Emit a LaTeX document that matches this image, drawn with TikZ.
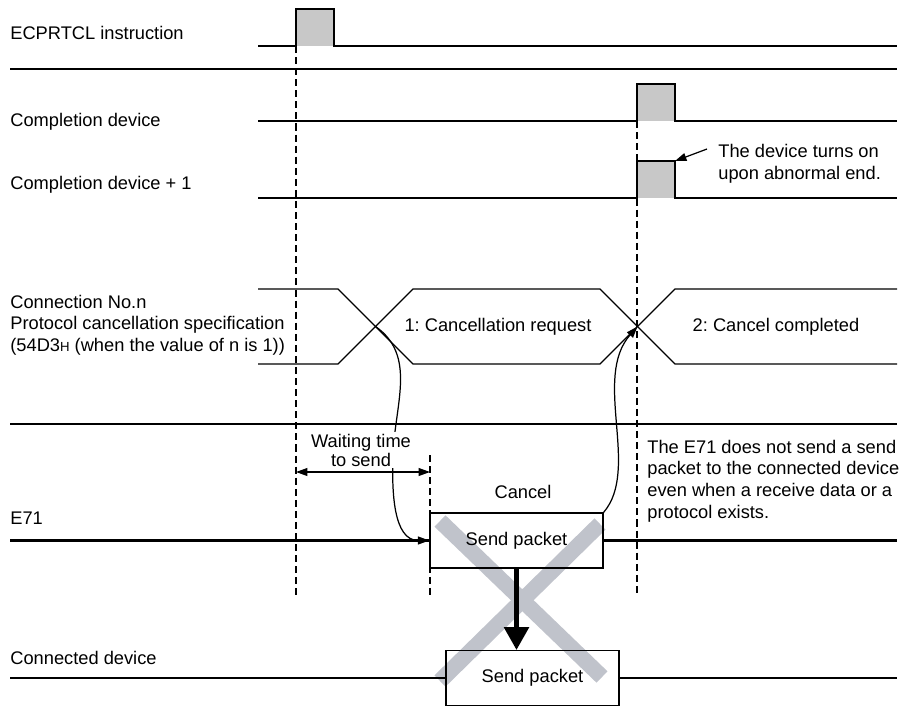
\documentclass[tikz,border=0pt]{standalone}
\usepackage{fontspec}
\setmainfont{Liberation Sans}
\usepackage{xcolor}
\usetikzlibrary{arrows.meta}

\definecolor{pulsegray}{RGB}{200,200,200}
\definecolor{crossgray}{RGB}{192,195,203}
\frenchspacing

\begin{document}
\begin{tikzpicture}[
    x=0.02cm, y=-0.02cm,
    font=\fontsize{10.4}{12.3}\selectfont,
    >={Triangle[length=6.5pt,width=4.5pt]},
    sig/.style={line width=0.7pt},
    sep/.style={line width=1.5pt},
    bus/.style={line width=1.4pt},
    guide/.style={line width=0.6pt, dash pattern=on 4pt off 2.3pt},
    lbl/.style={anchor=west, inner sep=0pt, align=left},
    pkt/.style={draw, line width=0.7pt, minimum width=3.46cm, minimum height=1.1cm, inner sep=0pt}
]
\useasboundingbox (0,0) rectangle (905,706);

% signal names
\node[lbl] (ecp)  at (10,33)  {ECPRTCL instruction};
\node[lbl] (cd)   at (10,122) {Completion device};
\node[lbl] (cd1)  at (10,185) {Completion device + 1};
\node[lbl] (conn) at (10,325) {Connection No.n\\Protocol cancellation specification\\(54D3{\fontsize{7.5}{9}\selectfont H} (when the value of n is 1))};
\node[lbl] (e71)  at (10,518) {E71};
\node[lbl] (dev)  at (10,658) {Connected device};

\coordinate (rend) at (897,0);

% pulses
\fill[pulsegray] (296,9) rectangle (334,46);
\draw[sig] (258,46) -- (296,46) -- (296,9) -- (334,9) -- (334,46) -- (897,46);

\fill[pulsegray] (637,84) rectangle (675,121);
\draw[sig] (258,121) -- (637,121) -- (637,84) -- (675,84) -- (675,121) -- (897,121);

\fill[pulsegray] (637,161) rectangle (675,198);
\draw[sig] (258,198) -- (637,198) -- (637,161) -- (675,161) -- (675,198) -- (897,198);

\draw[sep] (10,69) -- (897,69);
\draw[sep] (10,424) -- (897,424);

% protocol cancellation bus
\coordinate (xa) at (375.5,326.5);
\coordinate (xb) at (637.5,326.5);
\draw[sig] (258,289) -- (338,289) -- (413,364) -- (600,364) -- (675,289) -- (897,289);
\draw[sig] (258,364) -- (338,364) -- (413,289) -- (600,289) -- (675,364) -- (897,364);
\node (req)  at (498,327) {1: Cancellation request};
\node (done) at (776,327) {2: Cancel completed};

% timing guides
\draw[guide] (296,46) -- (296,596);
\draw[guide] (637,121) -- (637,596);
\draw[guide] (430,455) -- (430,597);

% crossed out transfer
\draw[line width=9pt, crossgray] (440,521) -- (602,677);
\draw[line width=9pt, crossgray] (600,524) -- (440,681);

\node[pkt] (sendE) at (516.5,540.5) {Send packet};
\node[pkt] (sendC) at (532.5,678) {Send packet};
\node (cancel) at (523,492) {Cancel};

\draw[bus] (e71.west |- sendE.west) -- (sendE.west);
\draw[bus] (sendE.east) -- (sendE.east -| rend);
\draw[bus] (dev.west |- sendC.west) -- (sendC.west);
\draw[bus] (sendC.east) -- (sendC.east -| rend);

\draw[line width=2.3pt, -{Triangle[length=13pt,width=14pt]}] (sendE.south) -- (sendE.south |- sendC.north);

% waiting time
\coordinate (wbend) at (393,455);
\draw[sig, ->] (xa) to[out=-35,in=88] (wbend) to[out=-92,in=180] (sendE.west);
\node[fill=white, inner sep=1pt, align=center, font=\fontsize{10.4}{10.8}\selectfont] (wait) at (361,450) {Waiting time\\to send};
\coordinate (wl) at (296,472);
\coordinate (wr) at (430,472);
\draw[sig, <->] (wl) -- (wr);

\draw[sig, ->] (sendE.north east) .. controls +(37,-43) and (592,378) .. (xb);

\node[lbl] (note) at (647,481) {The E71 does not send a send\\packet to the connected device\\even when a receive data or a\\protocol exists.};

% abnormal end note
\node[lbl] (dnote) at (718,164) {The device turns on\\upon abnormal end.};
\coordinate (dtail) at (707,149);
\coordinate (dtip) at (675,161);
\draw[sig, ->] (dtail) -- (dtip);

\end{tikzpicture}
\end{document}
